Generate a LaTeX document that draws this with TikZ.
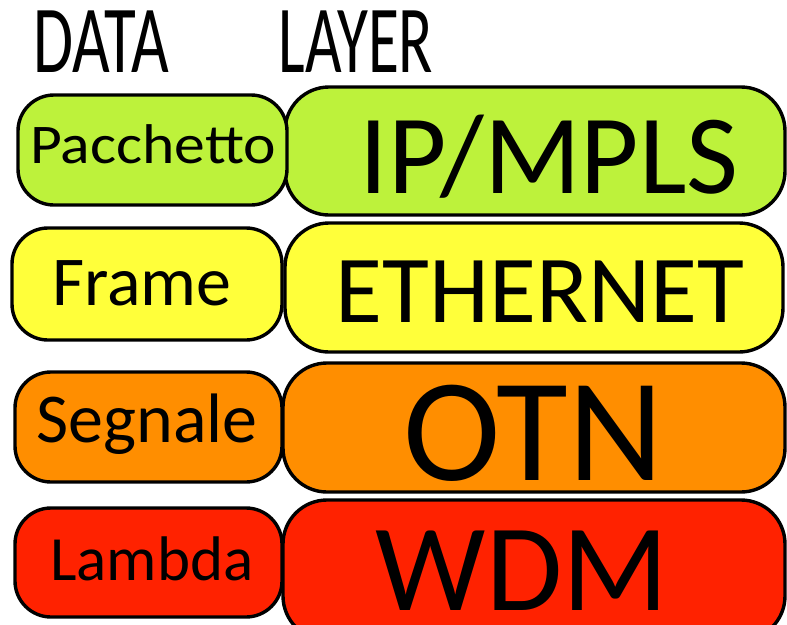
\documentclass[tikz,border=0pt]{standalone}
\usepackage{fontspec}
\setmainfont{Carlito}
\usepackage{graphicx}
\definecolor{pktgreen}{HTML}{BDF23B}
\definecolor{frmyellow}{HTML}{FFFF3A}
\definecolor{sigorange}{HTML}{FF8E00}
\definecolor{lamred}{HTML}{FF2200}
\newcommand{\fs}[1]{\fontsize{#1}{#1}\selectfont}
\tikzset{
  box/.style={draw=black, line width=3.4pt, rounded corners=#1, inner sep=0pt},
  box/.default=36pt,
  lbl/.style={anchor=base, inner sep=0pt, text=black},
}
\begin{document}
\begin{tikzpicture}[x=1pt, y=-1pt]
\useasboundingbox (0,0) rectangle (787,624);
\fill[white] (0,0) rectangle (787,624);

% column headings (tall, narrow lettering)
\node[lbl] (hdata) at (101,72) {\fs{62}\scalebox{1.05}[1.55]{DATA}};
\node[lbl] (hlayer) at (356,72) {\fs{62}\scalebox{1.02}[1.55]{LAYER}};

% right column: layers
\node[box=44pt, fill=pktgreen, minimum width=500pt, minimum height=128pt] (ip) at (535,151) {};
\node[box=44pt, fill=frmyellow, minimum width=498pt, minimum height=129pt] (eth) at (534,287.5) {};
\node[box=44pt, fill=sigorange, minimum width=502pt, minimum height=129pt] (otn) at (534,427.5) {};
\node[box=44pt, fill=lamred, minimum width=502pt, minimum height=140pt] (wdm) at (534,570) {};

% left column: data units
\node[box, fill=pktgreen, minimum width=269pt, minimum height=110pt] (pkt) at (152.5,150) {};
\node[box, fill=frmyellow, minimum width=270pt, minimum height=112pt] (frm) at (147,284) {};
\node[box, fill=sigorange, minimum width=267pt, minimum height=110pt] (sig) at (148.5,427) {};
\node[box, fill=lamred, minimum width=267pt, minimum height=109pt] (lam) at (148.5,562.5) {};

% labels
\node[lbl] (tpkt) at (153,163) {\fs{56}\scalebox{1.1}[1]{Pacchetto}};
\node[lbl] (tfrm) at (142,305) {\fs{70}Frame};
\node[lbl] (tsig) at (147,442) {\fs{70}Segnale};
\node[lbl] (tlam) at (152,580) {\fs{63}Lambda};
\node[lbl] (tip) at (549,193) {\fs{113}IP/MPLS};
\node[lbl] (teth) at (540,322) {\fs{96}ETHERNET};
\node[lbl] (totn) at (533,480) {\fs{147}OTN};
\node[lbl] (twdm) at (522,610) {\fs{124}WDM};
\end{tikzpicture}
\end{document}
